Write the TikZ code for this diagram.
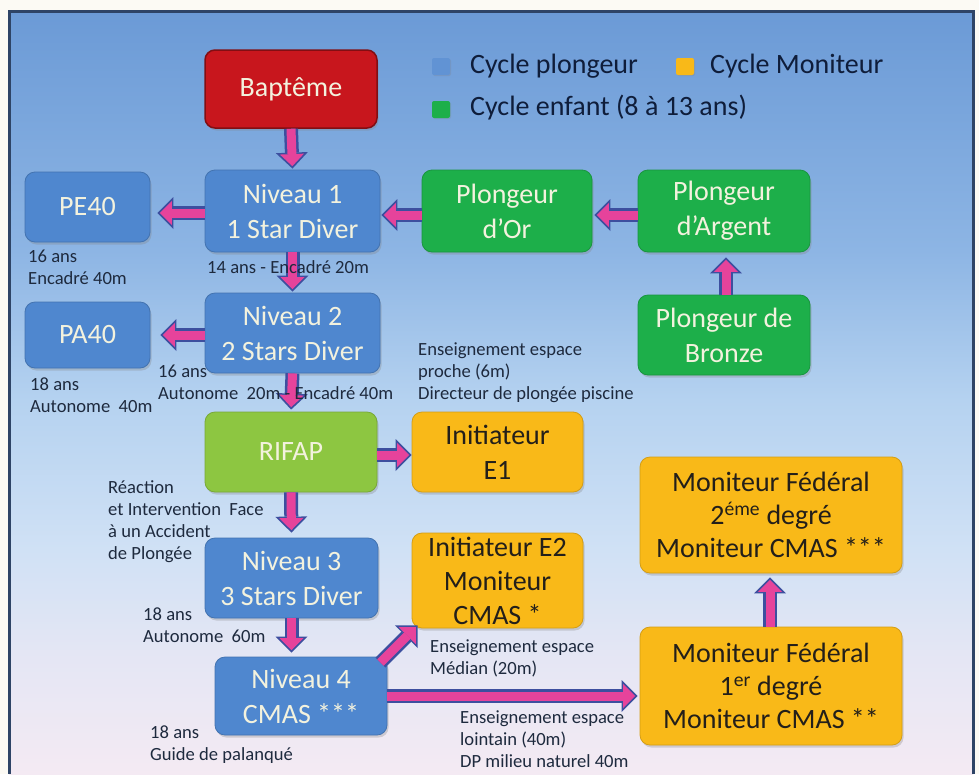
\documentclass[tikz,border=0pt]{standalone}
\usepackage{fontspec}
\setmainfont{Carlito}
\usetikzlibrary{arrows.meta,shadows,calc}
\definecolor{pageback}{HTML}{FCFAF4}
\definecolor{bgtop}{HTML}{6B9AD6}
\definecolor{bgup}{HTML}{8DB5E4}
\definecolor{bgmid}{HTML}{B5D2F0}
\definecolor{bglow}{HTML}{D0E1F5}
\definecolor{bglower}{HTML}{E4E6F4}
\definecolor{bgbot}{HTML}{F4EAF3}
\definecolor{framec}{HTML}{2E4466}
\definecolor{plblue}{HTML}{4F87CF}
\definecolor{plgreen}{HTML}{1DAF4A}
\definecolor{plred}{HTML}{C8161D}
\definecolor{plrifap}{HTML}{8DC641}
\definecolor{plyellow}{HTML}{F9B918}
\definecolor{cream}{HTML}{F3F2DE}
\definecolor{darktext}{HTML}{231F1A}
\definecolor{arrpink}{HTML}{E6439B}
\definecolor{arrblue}{HTML}{3D4F9F}
\definecolor{labelc}{HTML}{1E2A3E}
\definecolor{legendc}{HTML}{0F1D3A}
\pgfdeclareverticalshading{panelbg}{100bp}{color(0bp)=(bgbot); color(25bp)=(bgbot); color(33bp)=(bglower); color(39.7bp)=(bglow); color(49.5bp)=(bgmid); color(59.3bp)=(bgup); color(75bp)=(bgtop); color(100bp)=(bgtop)}
\tikzset{
  card/.style={rectangle, rounded corners=10pt, inner sep=0pt, align=center,
    font=\fontsize{28}{34}\selectfont, line width=0.8pt,
    drop shadow={shadow xshift=1.5pt, shadow yshift=-2.5pt, opacity=0.3}},
  bluecard/.style={card, fill=plblue, draw=plblue!85!black, text=cream},
  greencard/.style={card, fill=plgreen, draw=plgreen!85!black, text=cream},
  redcard/.style={card, fill=plred, draw=plred!65!black, line width=1.5pt, text=cream},
  rifapcard/.style={card, fill=plrifap, draw=plrifap!85!black, text=cream},
  yellowcard/.style={card, fill=plyellow, draw=plyellow!85!black, text=darktext},
  lbl/.style={anchor=north west, inner sep=0pt, align=left,
    font=\fontsize{18.6}{22}\selectfont, text=labelc},
  legtext/.style={anchor=base west, inner sep=0pt, font=\fontsize{28}{34}\selectfont, text=legendc},
  legsq/.style={rounded corners=2pt, draw=none, drop shadow={shadow xshift=1pt, shadow yshift=-1pt, opacity=0.25}},
  flow/.style={draw=arrblue, line width=14pt, shorten >=#1,
    -{Triangle[width=32pt,length=16pt,line width=0pt]},
    postaction={draw=arrpink, line width=9pt, shorten >=#1+2.5pt,
      -{Triangle[width=24pt,length=12pt,line width=0pt]}}},
  flow/.default=0pt
}
\begin{document}
\begin{tikzpicture}[x=1pt,y=-1pt]
\useasboundingbox (0,0) rectangle (979,774);
\fill[pageback] (0,0) rectangle (979,774);
\shade[shading=panelbg] (9,11) rectangle (973,774);
\draw[framec, line width=3pt] (9,774) -- (9,11) -- (973,11) -- (973,774);

% legend
\path[legsq, fill=plblue!90!white] (432,58) rectangle (450,75);
\node[legtext] (lg1) at (470,73) {Cycle plongeur};
\path[legsq, fill=plyellow] (676,58) rectangle (694,75);
\node[legtext] (lg2) at (710,73) {Cycle Moniteur};
\path[legsq, fill=plgreen] (432,101) rectangle (450,118);
\node[legtext] (lg3) at (470,115) {Cycle enfant (8 à 13 ans)};

% boxes
\node[redcard, minimum width=172pt, minimum height=78pt] (bap) at (291,89) {Baptême};
\node[bluecard, minimum width=175pt, minimum height=82pt, font=\fontsize{28}{35}\selectfont] (n1) at (292.5,211) {Niveau 1\\1 Star Diver};
\node[bluecard, minimum width=125pt, minimum height=70pt] (pe40) at (87.5,207) {PE40};
\node[greencard, minimum width=170pt, minimum height=82pt, font=\fontsize{28}{35}\selectfont] (or) at (507,211) {Plongeur\\d’Or};
\node[greencard, minimum width=172pt, minimum height=82pt, font=\fontsize{28}{35}\selectfont] (arg) at (724,211) {Plongeur\\d’Argent};
\node[greencard, minimum width=172pt, minimum height=80pt, font=\fontsize{28}{35}\selectfont] (bro) at (724,335) {Plongeur de\\Bronze};
\node[bluecard, minimum width=175pt, minimum height=80pt, font=\fontsize{28}{35}\selectfont] (n2) at (292.5,333) {Niveau 2\\2 Stars Diver};
\node[bluecard, minimum width=125pt, minimum height=66pt] (pa40) at (87.5,335) {PA40};
\node[rifapcard, minimum width=172pt, minimum height=80pt] (rifap) at (291,452) {RIFAP};
\node[yellowcard, minimum width=171pt, minimum height=80pt, font=\fontsize{28}{35}\selectfont] (e1) at (497.5,452) {Initiateur\\E1};
\node[bluecard, minimum width=173pt, minimum height=80pt, font=\fontsize{28}{35}\selectfont] (n3) at (291.5,578) {Niveau 3\\3 Stars Diver};
\node[yellowcard, minimum width=171pt, minimum height=95pt] (e2) at (497.5,580.5) {Initiateur E2\\Moniteur\\CMAS *};
\node[bluecard, minimum width=172pt, minimum height=78pt, font=\fontsize{28}{35}\selectfont] (n4) at (301,696) {Niveau 4\\CMAS ***};
\node[yellowcard, minimum width=262pt, minimum height=116pt, font=\fontsize{28}{33}\selectfont] (mf2) at (771,515) {Moniteur Fédéral\\2\textsuperscript{éme} degré\\Moniteur CMAS ***};
\node[yellowcard, minimum width=262pt, minimum height=118pt, font=\fontsize{28}{33}\selectfont] (mf1) at (771,686) {Moniteur Fédéral\\1\textsuperscript{er} degré\\Moniteur CMAS **};

% arrows
\draw[flow=1pt] (bap.south) -- (n1.north);
\draw[flow=7pt] ([yshift=-2pt]n1.west) -- ([yshift=-2pt]n1.west -| pe40.east);
\draw[flow=1pt] ([yshift=-4pt]or.west) -- ([yshift=-4pt]or.west -| n1.east);
\draw[flow=2pt] ([yshift=-4pt]arg.west) -- ([yshift=-4pt]arg.west -| or.east);
\draw[flow=5pt] ([xshift=2pt]bro.north) -- ([xshift=2pt]arg.south);
\draw[flow=1pt] (n1.south) -- (n2.north);
\draw[flow=10pt] ([yshift=-2pt]n2.west) -- ([yshift=-2pt]n2.west -| pa40.east);
\draw[flow=2pt] (n2.south) -- (rifap.north);
\draw[flow=0pt] ([yshift=-3pt]rifap.east) -- ([yshift=-3pt]rifap.east -| e1.west);
\draw[flow=5pt] (rifap.south) -- (n3.north);
\draw[flow=4pt] (n3.south) -- (n3.south |- n4.north);
\draw[flow=0pt] ([xshift=-7pt,yshift=-6pt]n4.north east) -- ([xshift=6pt,yshift=3pt]e2.south west);
\draw[flow=2pt] (n4.east) -- (n4.east -| mf1.west);
\draw[flow=4pt] ([xshift=-1pt]mf1.north) -- ([xshift=-1pt]mf2.south);

% labels
\node[lbl] (l1) at (28,246.6) {\strut 16 ans\\Encadré 40m};
\node[lbl] (l2) at (207,257.6) {\strut 14 ans - Encadré 20m};
\node[lbl] (l3) at (30,374.6) {\strut 18 ans\\Autonome\ \ 40m};
\node[lbl] (l4) at (158,361.6) {\strut 16 ans\\Autonome\ \ 20m - Encadré 40m};
\node[lbl] (l5) at (418,339.6) {\strut Enseignement espace\\proche (6m)\\Directeur de plongée piscine};
\node[lbl] (l6) at (108,477.6) {\strut Réaction\\et Intervention\ \ Face\\à un Accident\\de Plongée};
\node[lbl] (l7) at (143,604.6) {\strut 18 ans\\Autonome\ \ 60m};
\node[lbl] (l8) at (430,636.6) {\strut Enseignement espace\\Médian (20m)};
\node[lbl] (l9) at (150,722.6) {\strut 18 ans\\Guide de palanqué};
\node[lbl] (l10) at (460,707.6) {\strut Enseignement espace\\lointain (40m)\\DP milieu naturel 40m};
\end{tikzpicture}
\end{document}
